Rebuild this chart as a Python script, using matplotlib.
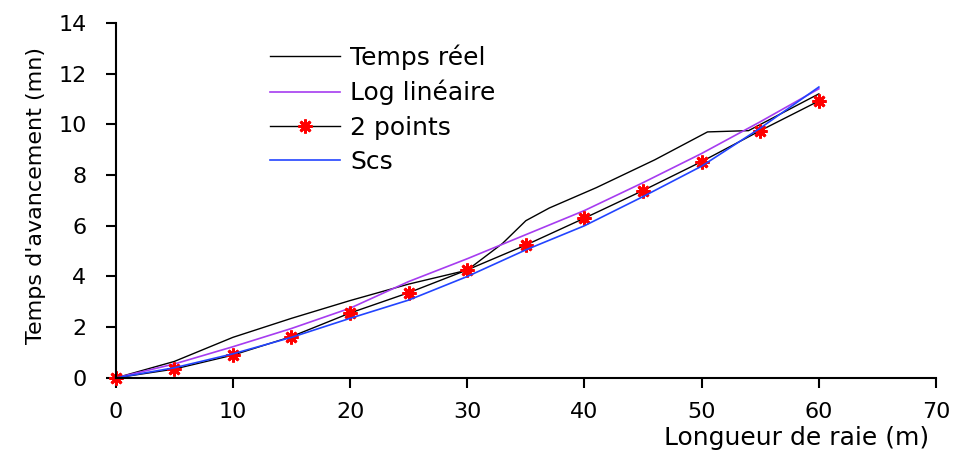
import matplotlib
matplotlib.use('Agg')
import matplotlib.pyplot as plt

plt.rcParams['font.family'] = ['DejaVu Sans']

# Temps reel (measured curve)
reelX = [0, 5, 10, 15, 20, 25, 30, 33, 35, 37, 41, 46, 50.5, 54, 60]
reelY = [0, 0.65, 1.6, 2.35, 3.05, 3.7, 4.25, 5.3, 6.2, 6.7, 7.5, 8.6, 9.7, 9.75, 11.2]

# other models, every 5 m
distX = [0, 5, 10, 15, 20, 25, 30, 35, 40, 45, 50, 55, 60]
logY = [0, 0.55, 1.23, 1.95, 2.75, 3.8, 4.7, 5.65, 6.6, 7.7, 8.85, 10.1, 11.4]
pointsY = [0, 0.35, 0.9, 1.63, 2.56, 3.36, 4.26, 5.24, 6.3, 7.39, 8.53, 9.75, 10.92]
scsY = [0, 0.4, 0.95, 1.6, 2.35, 3.07, 4.0, 5.05, 6.0, 7.15, 8.35, 9.85, 11.47]

fig = plt.figure(figsize=(9.64, 4.57), dpi=100)
ax = fig.add_axes([0.12, 0.173, 0.851, 0.777])

ax.plot(reelX, reelY, color='black', lw=1.0, label='Temps réel')
ax.plot(distX, logY, color='#A63CF0', lw=1.2, label='Log linéaire')
ax.plot(distX, pointsY, color='black', lw=1.0, marker=(8, 2, 0), ms=10,
        mec='red', mew=2, label='2 points')
ax.plot(distX, scsY, color='#2244FF', lw=1.2, label='Scs')

ax.set_xlim(0, 70)
ax.set_ylim(0, 14)
ax.set_xticks(range(0, 71, 10))
ax.set_yticks(range(0, 15, 2))
ax.spines['top'].set_visible(False)
ax.spines['right'].set_visible(False)
ax.spines['left'].set_linewidth(1.5)
ax.spines['bottom'].set_linewidth(1.5)
ax.tick_params(axis='both', length=7, width=1.5, labelsize=16)
ax.tick_params(axis='y', pad=14)
ax.tick_params(axis='x', pad=10)

ax.set_xlabel('Longueur de raie (m)', fontsize=18)
ax.xaxis.set_label_coords(0.83, -0.135)
ax.set_ylabel("Temps d'avancement (mn)", fontsize=16)
ax.yaxis.set_label_coords(-0.085, 0.515)

ax.legend(loc='upper left', bbox_to_anchor=(0.188, 0.94), frameon=False,
          fontsize=18, handlelength=2.8, handletextpad=0.4, labelspacing=0.41,
          borderpad=0, borderaxespad=0)

for line in ax.get_lines():
    line.set_clip_on(False)

fig.savefig('out.png', dpi=100)
